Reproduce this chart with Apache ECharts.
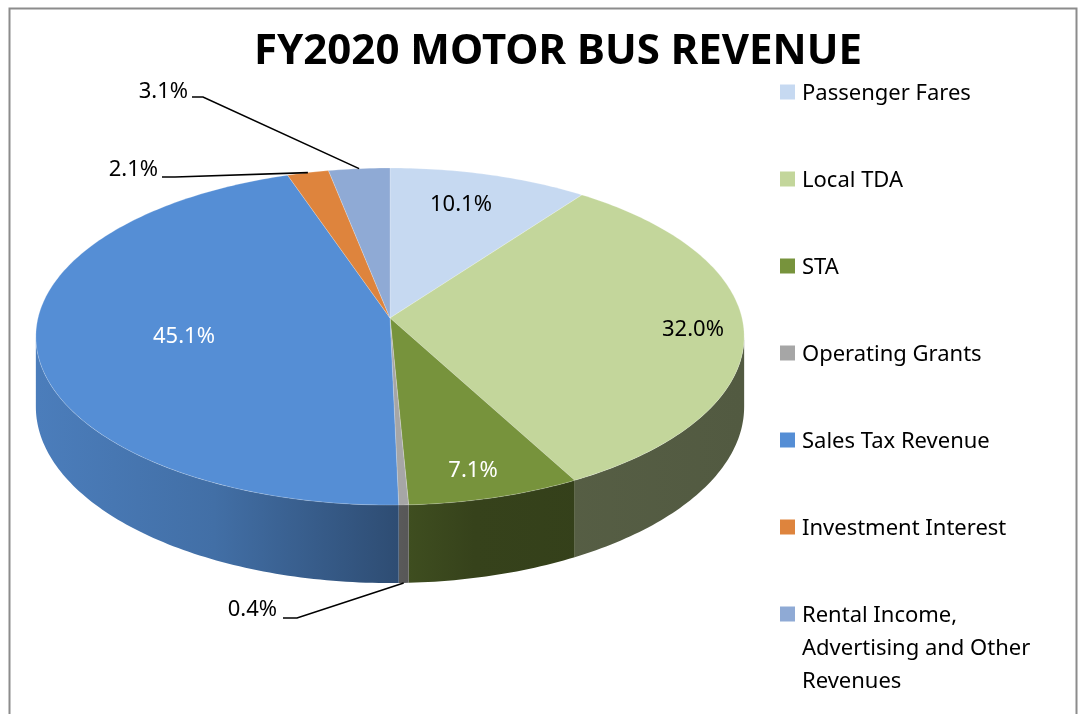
<!DOCTYPE html>
<html lang="en">
<head>
<meta charset="UTF-8">
<title>FY2020 Motor Bus Revenue</title>
<script src="https://cdn.jsdelivr.net/npm/echarts@6/dist/echarts.min.js"></script>
<style>
    html, body { margin: 0; padding: 0; background: #fff; }
    #chart { width: 1078px; height: 714px; }
</style>
</head>
<body>
<div id="chart"></div>
<script type="text/javascript">
    var categories = ['Passenger Fares', 'Local TDA', 'STA', 'Operating Grants',
        'Sales Tax Revenue', 'Investment Interest', 'Rental Income, Advertising and Other Revenues'];
    var shares = [10.1, 32.0, 7.1, 0.4, 45.1, 2.1, 3.1];
    var legendLabels = ['Passenger Fares', 'Local TDA', 'STA', 'Operating Grants',
        'Sales Tax Revenue', 'Investment Interest', 'Rental Income,\nAdvertising and Other\nRevenues'];
    var colors = ['#C6D9F1', '#C3D69B', '#77933C', '#A6A6A6', '#558ED5', '#DE843D', '#8FAAD5'];

    // pie geometry (a tilted disc seen in perspective)
    var CX = 390, CY = 318, R = 352, A = 166.5, P = 0.11, DEPTH = 69.4;
    var FONT = '"Noto Sans", "DejaVu Sans", sans-serif';

    // label placement, one per slice
    var labelLayout = [
        {x: 461, y: 205, color: '#000'},
        {x: 693, y: 330, color: '#000'},
        {x: 473, y: 471, color: '#fff'},
        {x: 277, y: 610, align: 'right', elbow: [[283, 618], [297, 618]], edge: 'bottom'},
        {x: 184, y: 337, color: '#fff'},
        {x: 158, y: 170, align: 'right', elbow: [[162, 177], [175, 177]], edge: 'top'},
        {x: 188, y: 92, align: 'right', elbow: [[192, 97], [203, 97]], edge: 'top'}
    ];

    var total = 0, starts = [];
    shares.forEach(function (v) { starts.push(total); total += v; });

    function proj(theta, k) {
        var u = Math.sin(theta) * k, v = Math.cos(theta) * k, s = 1 + P * v;
        return [CX + R * u / s, CY - A * v / s];
    }
    function projBottom(theta) {
        var p = proj(theta, 1);
        return [p[0], p[1] + DEPTH / (1 + P * Math.cos(theta))];
    }
    function shade(hex, f) {
        var n = parseInt(hex.slice(1), 16);
        var r = Math.round(((n >> 16) & 255) * f), g = Math.round(((n >> 8) & 255) * f), b = Math.round((n & 255) * f);
        return 'rgb(' + r + ',' + g + ',' + b + ')';
    }

    var wallFrom = Math.acos(-P), wallTo = 2 * Math.PI - Math.acos(-P);

    function renderSlice(params, api) {
        var i = params.dataIndex;
        var a0 = starts[i] / total * 2 * Math.PI;
        var a1 = (starts[i] + api.value(0)) / total * 2 * Math.PI;
        var children = [];
        var n, t, k;

        // side wall (front half only)
        var w0 = Math.max(a0, wallFrom), w1 = Math.min(a1, wallTo);
        if (w1 > w0) {
            var top = [], bot = [];
            n = Math.max(2, Math.ceil((w1 - w0) * 60));
            for (k = 0; k <= n; k++) {
                t = w0 + (w1 - w0) * k / n;
                top.push(proj(t, 1));
                bot.push(projBottom(t));
            }
            children.push({
                type: 'polygon',
                shape: {points: top.concat(bot.reverse())},
                style: {
                    fill: {
                        type: 'linear', global: true, x: CX - R, y: 0, x2: CX + R, y2: 0,
                        colorStops: [
                            {offset: 0, color: shade(colors[i], 0.88)},
                            {offset: 0.25, color: shade(colors[i], 0.78)},
                            {offset: 0.5, color: shade(colors[i], 0.55)},
                            {offset: 0.62, color: shade(colors[i], 0.45)},
                            {offset: 1, color: shade(colors[i], 0.42)}
                        ]
                    }
                }
            });
        }

        // top face
        var pts = [proj(0, 0)];
        n = Math.max(2, Math.ceil((a1 - a0) * 60));
        for (k = 0; k <= n; k++) {
            pts.push(proj(a0 + (a1 - a0) * k / n, 1));
        }
        children.push({
            type: 'polygon',
            shape: {points: pts},
            style: {fill: colors[i], stroke: 'rgba(255,255,255,0.35)', lineWidth: 0.6}
        });

        // data label
        var lay = labelLayout[i];
        if (lay.elbow) {
            var mid = (a0 + a1) / 2;
            var end = lay.edge === 'bottom' ? projBottom(mid) : proj(mid, 1);
            children.push({
                type: 'polyline',
                shape: {points: lay.elbow.concat([end])},
                style: {stroke: '#000', lineWidth: 1.6, fill: null}
            });
        }
        children.push({
            type: 'text',
            x: lay.x, y: lay.y,
            style: {
                text: api.value(0).toFixed(1) + '%',
                fill: lay.color || '#000',
                font: '22px ' + FONT,
                align: lay.align || 'center',
                verticalAlign: 'middle'
            }
        });

        return {type: 'group', children: children};
    }

    // legend, drawn on the right
    var legendItems = [];
    legendLabels.forEach(function (txt, i) {
        var y = 92 + i * 87;
        legendItems.push({
            type: 'rect', shape: {x: 780, y: y - 7.5, width: 15, height: 15},
            style: {fill: colors[i]}
        });
        legendItems.push({
            type: 'text', x: 802, y: y - 14.5,
            style: {text: txt, font: '22px ' + FONT, fill: '#000', lineHeight: 33, verticalAlign: 'top'}
        });
    });

    var chart = echarts.init(document.getElementById('chart'));

    var option = {
        backgroundColor: '#fff',
        animation: false,
        title: {
            text: 'FY2020 MOTOR BUS REVENUE',
            left: 553, top: 47, textAlign: 'center', textVerticalAlign: 'middle',
            textStyle: {fontFamily: FONT, fontWeight: 'bold', fontSize: 42, color: '#000'}
        },
        graphic: [
            {
                type: 'rect', silent: true,
                shape: {x: 9.5, y: 8.5, width: 1067, height: 720},
                style: {fill: null, stroke: '#8c8c8c', lineWidth: 2}
            },
            {type: 'group', children: legendItems}
        ],
        series: [
            {
                type: 'custom',
                name: 'FY2020 Motor Bus Revenue',
                coordinateSystem: 'none',
                renderItem: renderSlice,
                data: shares.map(function (v, i) { return {name: categories[i], value: [v]}; })
            }
        ]
    };

    chart.setOption(option);
</script>
</body>
</html>
